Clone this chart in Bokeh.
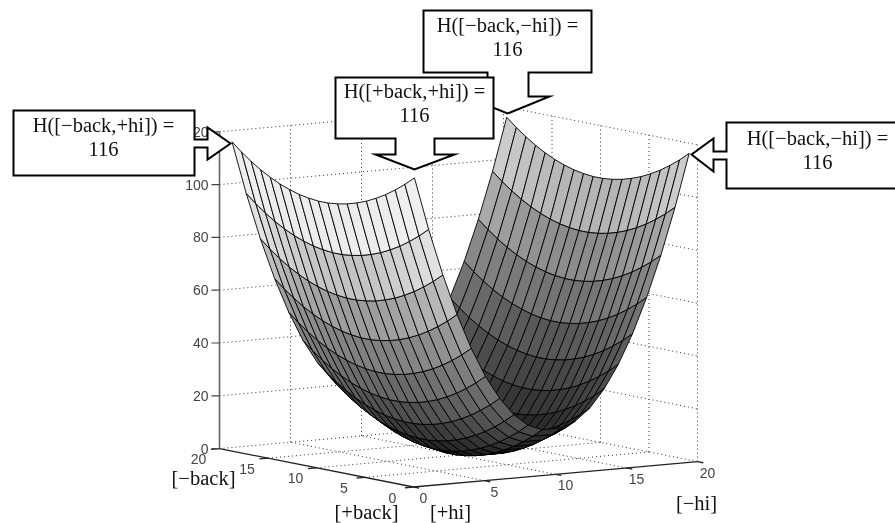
import numpy as np
from bokeh.plotting import figure
from bokeh.models import Range1d, ColumnDataSource
from bokeh.core.properties import value
from bokeh.embed import file_html
from bokeh.resources import INLINE

# Values
hi_levels = [0.75, 1.75, 2.75, 3.75, 4.75, 5.75, 6.75, 7.75, 8.75, 9.75,
             11.1, 12.1, 13.1, 14.1, 15.1, 16.1, 17.1, 18.1, 19.1, 20.1]
back_levels = [1, 1.99, 2.98, 3.97, 4.96, 5.95, 6.94, 7.93, 8.92, 9.91,
               10.9, 11.89, 12.88, 13.87, 14.86, 15.85, 16.84, 17.83, 18.82, 19.81]
hi_cost = [100, 80, 62.3, 46.8, 33.5, 22.4, 13.6, 6.9, 2.5, 0.3,
           0.3, 2.5, 6.9, 13.6, 22.4, 33.5, 46.8, 62.3, 80, 100]
back_cost = [16, 12.8, 10, 7.5, 5.4, 3.6, 2.2, 1.1, 0.4, 0,
             0, 0.4, 1.1, 2.2, 3.6, 5.4, 7.5, 10, 12.8, 16]
z_ticks = [0, 20, 40, 60, 80, 100, 120]
floor_ticks = [0, 5, 10, 15, 20]
corner_text = ["H([\u2212back,+hi]) =", "H([+back,+hi]) =", "H([\u2212back,\u2212hi]) =", "H([\u2212back,\u2212hi]) ="]
corner_value = "116"

SERIF = value("Liberation Serif")
SANS = value("Liberation Sans")


def proj(x, y, z):
    return (413 + 14.2 * x - 9.7 * y, 486.5 - 1.27 * x - 1.92 * y - 2.64 * z)


p = figure(width=895, height=523, output_backend="svg", toolbar_location=None,
           x_range=Range1d(0, 895), y_range=Range1d(523, 0),
           min_border=0, outline_line_color=None, background_fill_color="white",
           border_fill_color="white", x_axis_type=None, y_axis_type=None)
p.grid.visible = False
p.styles = {"position": "fixed", "left": "0px", "top": "0px"}


def line3(a, b, **kw):
    pa, pb = proj(*a), proj(*b)
    p.line([pa[0], pb[0]], [pa[1], pb[1]], **kw)


dot = dict(line_color="#333333", line_dash="1 3", line_width=1)
top = z_ticks[-1]
for t in floor_ticks[1:]:
    line3((t, 0, 0), (t, 20, 0), **dot)
    line3((0, t, 0), (20, t, 0), **dot)
    line3((t, 20, 0), (t, 20, top), **dot)
for t in floor_ticks[:-1]:
    line3((20, t, 0), (20, t, top), **dot)
for z in z_ticks[1:]:
    line3((0, 20, z), (20, 20, z), **dot)
    line3((20, 20, z), (20, 0, z), **dot)

# axes
axis_gray = dict(line_color="#666666", line_width=1.6)
line3((0, 20, 0), (0, 20, top), **axis_gray)
axis_black = dict(line_color="#222222", line_width=1.3)
line3((0, 20, 0), (0, 0, 0), **axis_black)
line3((0, 0, 0), (20, 0, 0), **axis_black)
for t in floor_ticks:
    line3((t, 0, 0), (t, -0.6, 0), **axis_black)
    line3((0, t, 0), (-0.6, t, 0), **axis_black)
for z in z_ticks:
    x0, y0 = proj(0, 20, z)
    p.line([x0 - 8, x0], [y0, y0], line_color="#444444", line_width=1.2)

tick_style = dict(text_font=SANS, text_font_size="14px", text_color="#444444", text_baseline="middle")
zx, zy = zip(*[proj(0, 20, z) for z in z_ticks])
p.text([v - 11 for v in zx], list(zy), text=[str(z) for z in z_ticks], text_align="right", **tick_style)
hx, hy = zip(*[proj(t, 0, 0) for t in floor_ticks])
p.text([v + 10 for v in hx], [v + 11 for v in hy], text=[str(t) for t in floor_ticks], text_align="center", **tick_style)
bx, by = zip(*[proj(0, t, 0) for t in floor_ticks])
p.text([v - 21 for v in bx], [v + 10.5 for v in by], text=[str(t) for t in floor_ticks], text_align="center", **tick_style)

# surface
shade_z = [0, 1.5, 5, 10, 18, 28, 40, 54, 71, 90, 105, 116]
near_g = [24, 28, 40, 56, 80, 105, 128, 155, 195, 236, 240, 244]
far_g = [20, 24, 30, 40, 55, 70, 88, 115, 140, 180, 205, 215]
polys = []
for i in range(len(hi_levels) - 1):
    for j in range(len(back_levels) - 1):
        corners = [(i, j), (i + 1, j), (i + 1, j + 1), (i, j + 1)]
        pts = [(hi_levels[a], back_levels[b], hi_cost[a] + back_cost[b]) for a, b in corners]
        xy = [proj(*q) for q in pts]
        zm = np.mean([q[2] for q in pts])
        g = int(np.interp(zm, shade_z, near_g if i < 9 else far_g))
        polys.append((9.7 * hi_levels[i] + 14.2 * back_levels[j],
                      [q[0] for q in xy], [q[1] for q in xy], f"#{g:02x}{g:02x}{g:02x}"))
polys.sort(key=lambda r: -r[0])
src = ColumnDataSource(dict(xs=[r[1] for r in polys], ys=[r[2] for r in polys], c=[r[3] for r in polys]))
p.patches("xs", "ys", source=src, fill_color="c", line_color="#000000", line_width=0.9)

# axis names
name_style = dict(text_font=SERIF, text_font_size="20.5px", text_color="#111111",
                  text_align="center", text_baseline="middle")
p.text([203, 366, 450, 696], [477, 511, 511.5, 502],
       text=["[\u2212back]", "[+back]", "[+hi]", "[\u2212hi]"], **name_style)


# callouts
def callout(xs, ys, cx, cy, label):
    p.patch(xs, ys, fill_color="white", line_color="black", line_width=2, line_join="miter")
    p.text([cx, cx], [cy, cy + 24.5], text=[label, corner_value], **name_style)


callout([423, 591, 591, 528, 528, 549, 507, 465, 487, 487, 423],
        [10, 10, 72, 72, 96, 96, 113, 96, 96, 72, 72], 507, 24, corner_text[2])
callout([13, 194, 194, 207, 207, 230, 207, 207, 194, 194, 13],
        [110, 110, 139, 139, 127, 143, 159, 147, 147, 175, 175], 103, 124, corner_text[0])
callout([335, 493, 493, 434, 434, 454, 414, 375, 395, 395, 335],
        [77, 77, 138, 138, 154, 154, 169, 154, 154, 138, 138], 414, 90, corner_text[1])
callout([726, 910, 910, 726, 726, 713, 713, 691, 713, 713, 726, 726],
        [122, 122, 188, 188, 159, 159, 171, 154, 138, 151, 151, 122], 817, 137, corner_text[3])

open("out.html", "w").write(file_html(p, INLINE))
